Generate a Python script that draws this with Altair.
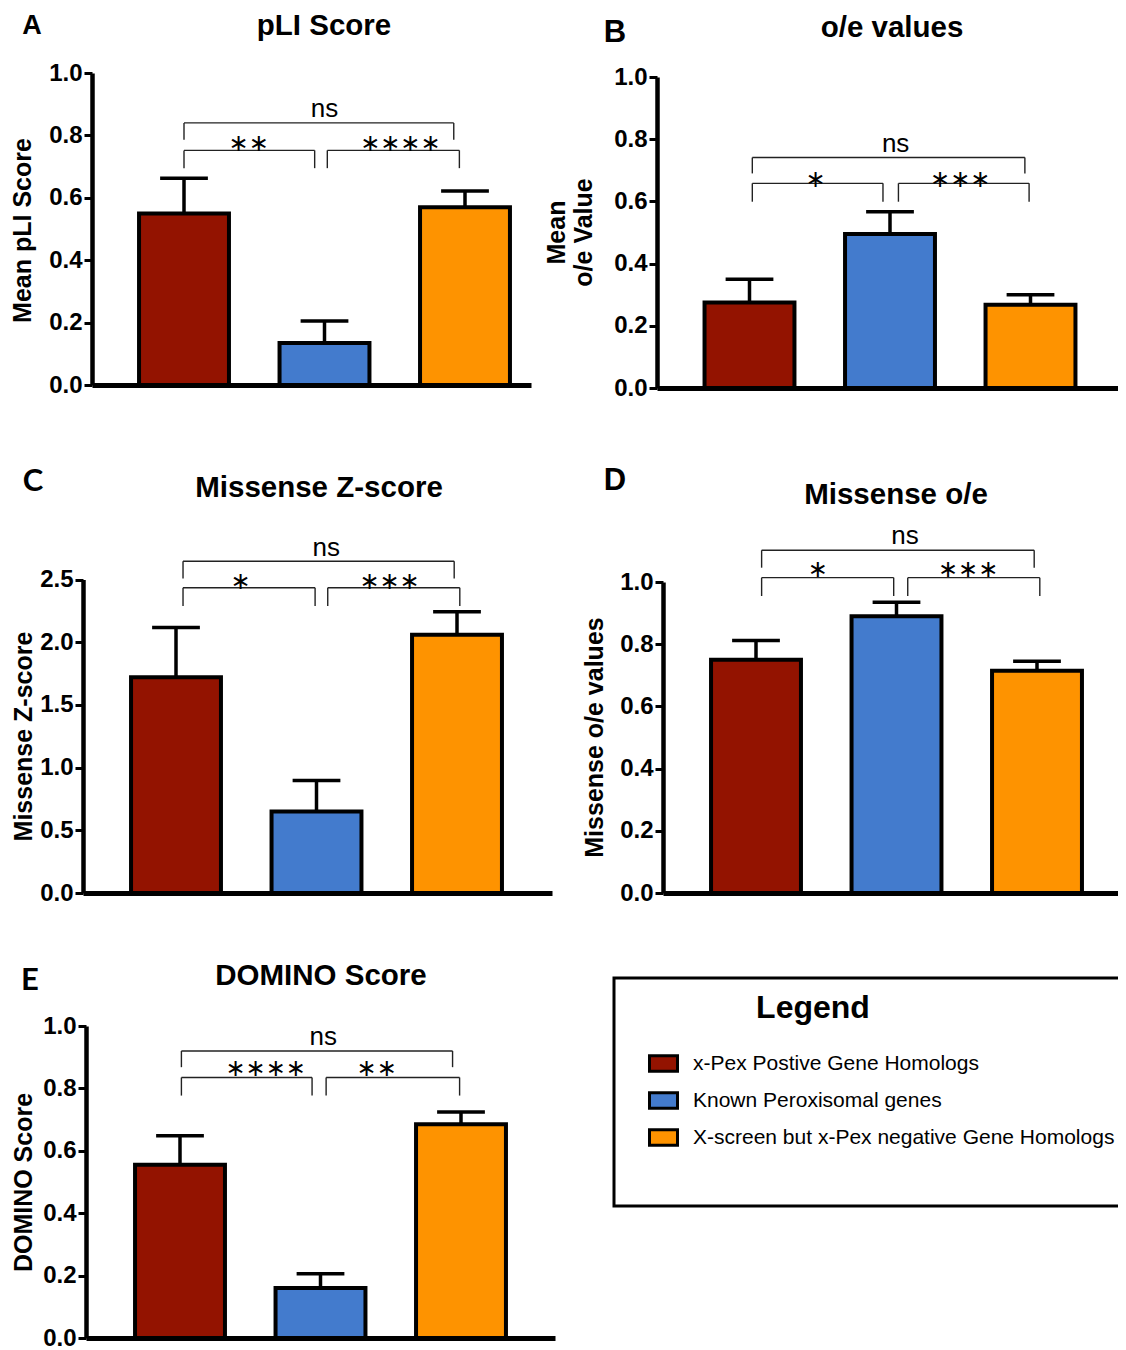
import altair as alt
import pandas as pd

# ---------------- data ----------------
groups = ["x-Pex Postive Gene Homologs", "Known Peroxisomal genes",
          "X-screen but x-Pex negative Gene Homologs"]
colors = ["#931300", "#437bcd", "#fe9300"]

pli_mean = [0.55, 0.135, 0.57]
pli_sem = [0.113, 0.070, 0.052]
pli_sig = ["ns", "**", "****"]

oe_mean = [0.275, 0.495, 0.268]
oe_sem = [0.075, 0.072, 0.032]
oe_sig = ["ns", "*", "***"]

mz_mean = [1.72, 0.65, 2.06]
mz_sem = [0.398, 0.247, 0.183]
mz_sig = ["ns", "*", "***"]

moe_mean = [0.75, 0.89, 0.715]
moe_sem = [0.062, 0.045, 0.030]
moe_sig = ["ns", "*", "***"]

dom_mean = [0.555, 0.16, 0.685]
dom_sem = [0.093, 0.046, 0.039]
dom_sig = ["ns", "****", "**"]

# ---------------- layout ----------------
W, H = 1110, 1342
SP = 140.5          # pixels between bar centres
HW = 0.32           # bar half width (category units)
CW = 0.17           # error cap half width
FONT = "Liberation Sans"
STAR = "\u2217"

# bracket tuples: (x start, x end, y of bar, y of leg ends, label y, label x)
panels = [
    dict(letter="A", lfont=FONT, lsize=27, title="pLI Score", ytitle="Mean pLI Score",
         mean=pli_mean, sem=pli_sem, sig=pli_sig, ymax=1.0,
         yvals=[0, 0.2, 0.4, 0.6, 0.8, 1.0],
         xr=(84, 523), c0=176, yr=(377, 65),
         br=[(0.0, 1.92, 0.840, 0.786, 0.884, 1.0), (0.0, 0.93, 0.752, 0.695, 0.773, 0.46),
             (1.02, 1.96, 0.752, 0.695, 0.773, 1.54)],
         title_xy=(316, 18), letter_xy=(24, 18), ytitle_xy=(-70, 222)),
    dict(letter="B", lfont=FONT, lsize=31, title="o/e values", ytitle=["Mean", "o/e Value"],
         mean=oe_mean, sem=oe_sem, sig=oe_sig, ymax=1.0,
         yvals=[0, 0.2, 0.4, 0.6, 0.8, 1.0],
         xr=(649, 1110), c0=741.5, yr=(380, 69),
         br=[(0.02, 1.96, 0.741, 0.690, 0.783, 1.04), (0.02, 0.95, 0.658, 0.599, 0.668, 0.47),
             (1.06, 1.99, 0.658, 0.599, 0.668, 1.50)],
         title_xy=(884, 20), letter_xy=(607, 25), ytitle_xy=(-101, 224)),
    dict(letter="C", lfont="Lato", lsize=31, title="Missense Z-score", ytitle="Missense Z-score",
         mean=mz_mean, sem=mz_sem, sig=mz_sig, ymax=2.5,
         yvals=[0, 0.5, 1.0, 1.5, 2.0, 2.5],
         xr=(75, 544), c0=168, yr=(885, 571.5),
         br=[(0.05, 1.98, 2.646, 2.508, 2.755, 1.07), (0.05, 0.99, 2.434, 2.288, 2.48, 0.46),
             (1.08, 2.02, 2.434, 2.288, 2.48, 1.52)],
         title_xy=(311, 480), letter_xy=(25, 474), ytitle_xy=(-60, 728)),
    dict(letter="D", lfont=FONT, lsize=31, title="Missense o/e", ytitle="Missense o/e values",
         mean=moe_mean, sem=moe_sem, sig=moe_sig, ymax=1.0,
         yvals=[0, 0.2, 0.4, 0.6, 0.8, 1.0],
         xr=(655, 1110), c0=748, yr=(885, 574),
         br=[(0.04, 1.98, 1.102, 1.046, 1.147, 1.06), (0.04, 0.98, 1.014, 0.955, 1.037, 0.44),
             (1.08, 2.02, 1.014, 0.955, 1.037, 1.51)],
         title_xy=(888, 487), letter_xy=(607, 473), ytitle_xy=(-69, 729)),
    dict(letter="E", lfont="Lato", lsize=31, title="DOMINO Score", ytitle="DOMINO Score",
         mean=dom_mean, sem=dom_sem, sig=dom_sig, ymax=1.0,
         yvals=[0, 0.2, 0.4, 0.6, 0.8, 1.0],
         xr=(78, 547), c0=172, yr=(1330, 1018),
         br=[(0.01, 1.94, 0.920, 0.868, 0.964, 1.02), (0.01, 0.94, 0.835, 0.777, 0.861, 0.61),
             (1.04, 1.99, 0.835, 0.777, 0.861, 1.40)],
         title_xy=(313, 968), letter_xy=(22, 973), ytitle_xy=(-63, 1174)),
]

fill_scale = alt.Scale(domain=groups, range=colors)
legend = alt.Legend(
    orient="none", legendX=640, legendY=1040, title=None, padding=0,
    symbolType="M-1,-0.55L1,-0.55L1,0.55L-1,0.55Z", symbolSize=784,
    symbolStrokeColor="black", symbolStrokeWidth=3, symbolOpacity=1,
    labelFont=FONT, labelFontSize=21, labelColor="black", labelOffset=14,
    labelLimit=0, rowPadding=7,
)


def make_panel(p, with_legend):
    df = pd.DataFrame({"group": groups, "idx": [0, 1, 2],
                       "mean": p["mean"], "sem": p["sem"]})
    brdf = pd.DataFrame({
        "xa": [b[0] for b in p["br"]], "xb": [b[1] for b in p["br"]],
        "yh": [b[2] for b in p["br"]], "yl": [b[3] for b in p["br"]],
        "ty": [b[4] for b in p["br"]], "tx": [b[5] for b in p["br"]],
        "label": [s.replace("*", STAR) for s in p["sig"]],
        "kind": ["ns" if s == "ns" else "star" for s in p["sig"]],
    })
    d0 = (p["xr"][0] - p["c0"]) / SP
    d1 = (p["xr"][1] - p["c0"]) / SP
    xs = alt.Scale(domain=[d0, d1], range=list(p["xr"]), nice=False, zero=False)
    ys = alt.Scale(domain=[0, p["ymax"]], range=list(p["yr"]), nice=False, zero=False)

    xaxis = alt.Axis(orient="bottom", offset=p["yr"][0] - H, labels=False, ticks=False,
                     grid=False, title="", domainColor="black", domainWidth=5)
    yaxis = alt.Axis(orient="left", offset=-p["xr"][0], values=p["yvals"], format=".1f",
                     grid=False, domainColor="black", domainWidth=4.5,
                     tickColor="black", tickWidth=3, tickSize=8,
                     labelFont=FONT, labelFontSize=24, labelFontWeight="bold",
                     labelColor="black", labelPadding=2,
                     title=p["ytitle"], titleFont=FONT, titleFontSize=25,
                     titleFontWeight="bold", titleColor="black",
                     titleX=p["ytitle_xy"][0], titleY=p["ytitle_xy"][1],
                     titleAngle=270, titleAlign="center", titleBaseline="middle",
                     titleLineHeight=27)

    base = alt.Chart(df).transform_calculate(
        x0=f"datum.idx - {HW}", x1=f"datum.idx + {HW}",
        top="datum.mean + datum.sem",
        cl=f"datum.idx - {CW}", cr=f"datum.idx + {CW}",
    )
    bars = base.mark_bar(stroke="black", strokeWidth=4).encode(
        x=alt.X("x0:Q", scale=xs, axis=xaxis), x2="x1:Q",
        y=alt.Y("mean:Q", scale=ys, axis=yaxis), y2=alt.datum(0),
        fill=alt.Fill("group:N", scale=fill_scale,
                      legend=legend if with_legend else None),
    )
    err = base.mark_rule(color="black", strokeWidth=3.5).encode(
        x=alt.X("idx:Q", scale=xs, axis=None),
        y=alt.Y("mean:Q", scale=ys, axis=None), y2="top:Q",
    )
    cap = base.mark_rule(color="black", strokeWidth=3.5).encode(
        x=alt.X("cl:Q", scale=xs, axis=None), x2="cr:Q",
        y=alt.Y("top:Q", scale=ys, axis=None),
    )
    bbase = alt.Chart(brdf)
    hline = bbase.mark_rule(color="#222", strokeWidth=1.4).encode(
        x=alt.X("xa:Q", scale=xs, axis=None), x2="xb:Q",
        y=alt.Y("yh:Q", scale=ys, axis=None),
    )
    lleg = bbase.mark_rule(color="#222", strokeWidth=1.4).encode(
        x=alt.X("xa:Q", scale=xs, axis=None),
        y=alt.Y("yh:Q", scale=ys, axis=None), y2="yl:Q",
    )
    rleg = bbase.mark_rule(color="#222", strokeWidth=1.4).encode(
        x=alt.X("xb:Q", scale=xs, axis=None),
        y=alt.Y("yh:Q", scale=ys, axis=None), y2="yl:Q",
    )
    ns_text = bbase.transform_filter("datum.kind == 'ns'").mark_text(
        font=FONT, fontSize=26, color="black", baseline="middle", align="center"
    ).encode(x=alt.X("tx:Q", scale=xs, axis=None),
             y=alt.Y("ty:Q", scale=ys, axis=None), text="label:N")
    star_text = bbase.transform_filter("datum.kind == 'star'").mark_text(
        font="DejaVu Sans", fontSize=24, color="black", baseline="middle", align="center"
    ).encode(x=alt.X("tx:Q", scale=xs, axis=None),
             y=alt.Y("ty:Q", scale=ys, axis=None), text="label:N")

    tdf = pd.DataFrame({"title": [p["title"]], "letter": [p["letter"]]})
    title = alt.Chart(tdf).mark_text(
        font=FONT, fontSize=29.5, fontWeight="bold", color="black",
        align="center", baseline="middle"
    ).encode(x=alt.value(p["title_xy"][0]), y=alt.value(p["title_xy"][1]), text="title:N")
    letter = alt.Chart(tdf).mark_text(
        font=p["lfont"], fontSize=p["lsize"], fontWeight="bold", color="black",
        align="center", baseline="middle"
    ).encode(x=alt.value(p["letter_xy"][0]), y=alt.value(p["letter_xy"][1]), text="letter:N")

    return [bars, err, cap, hline, lleg, rleg, ns_text, star_text, title, letter]


all_layers = []
for i, p in enumerate(panels):
    all_layers.extend(make_panel(p, i == 0))

ldf = pd.DataFrame({"t": ["Legend"]})
legend_box = alt.Chart(ldf).mark_rect(fill="transparent", stroke="black", strokeWidth=3).encode(
    x=alt.value(606), x2=alt.value(1135), y=alt.value(970), y2=alt.value(1198)
)
legend_title = alt.Chart(ldf).mark_text(
    font=FONT, fontSize=32, fontWeight="bold", color="black",
    align="center", baseline="middle"
).encode(x=alt.value(805), y=alt.value(1000), text="t:N")

chart = alt.layer(*all_layers, legend_box, legend_title).resolve_scale(
    x="independent", y="independent"
).resolve_axis(
    x="independent", y="independent"
).properties(
    width=W, height=H, padding=0,
    autosize=alt.AutoSizeParams(type="none"),
).configure_view(strokeWidth=0)

chart.save("out.html", embed_options={"renderer": "svg", "actions": False})
